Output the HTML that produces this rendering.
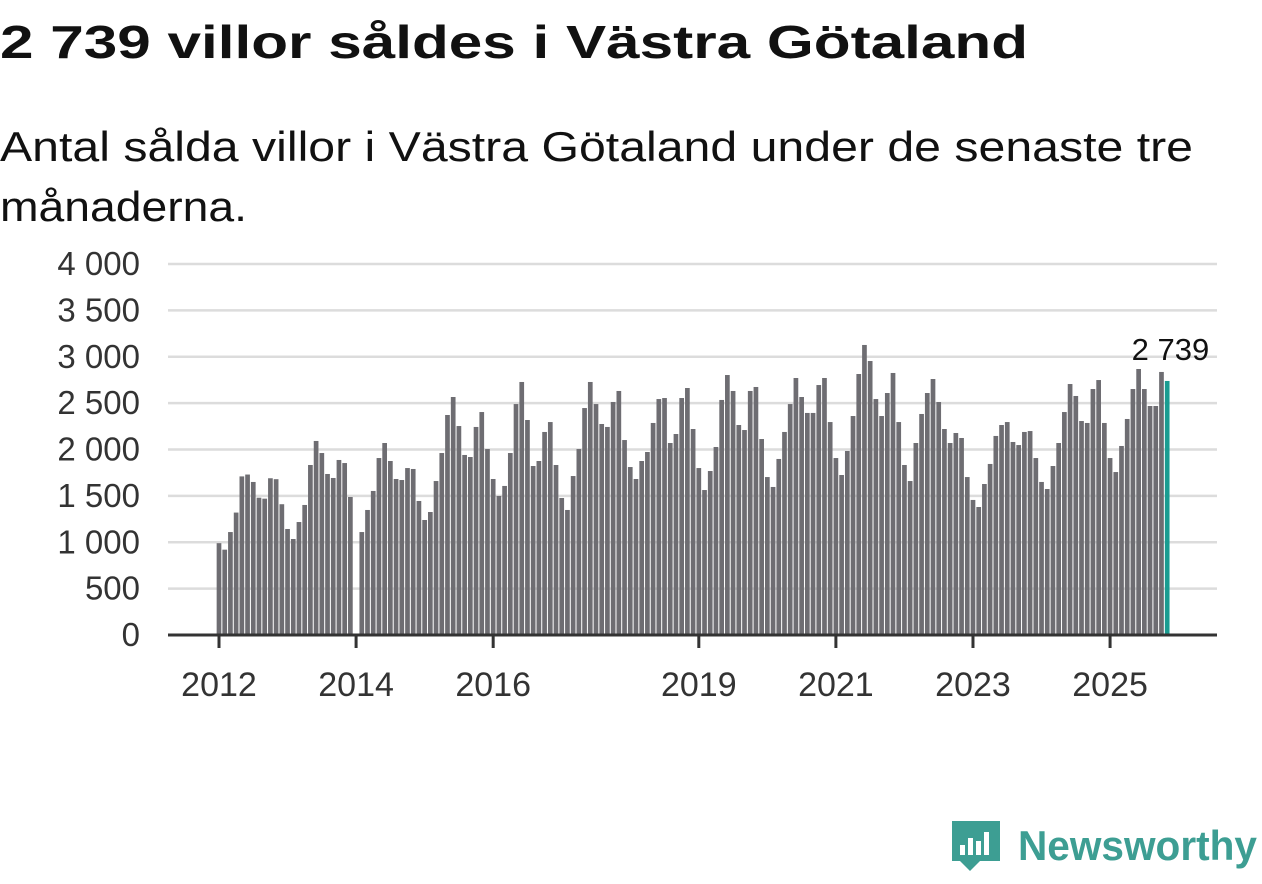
<!DOCTYPE html>
<html><head><meta charset="utf-8"><style>
body{margin:0;background:#fff;width:1262px;height:879px;overflow:hidden;font-family:"Liberation Sans",sans-serif}
</style></head><body>
<svg width="1262" height="879" xmlns="http://www.w3.org/2000/svg">
<text x="0" y="58" font-size="46" font-weight="bold" fill="#111" font-family="Liberation Sans" textLength="1028" lengthAdjust="spacingAndGlyphs">2 739 villor såldes i Västra Götaland</text>
<text x="0" y="161" font-size="42" fill="#111" textLength="1193" lengthAdjust="spacingAndGlyphs">Antal sålda villor i Västra Götaland under de senaste tre</text>
<text x="0" y="221" font-size="42" fill="#111" textLength="247" lengthAdjust="spacingAndGlyphs">månaderna.</text>
<g id="grid"></g><g id="bars"></g><g id="xaxis"></g>
<g>
<path d="M952 821 h48 v40 h-20 l-10 10 l-10 -10 h-8 z" fill="#3d9e93"/>
<rect x="960" y="845" width="5" height="10" fill="#fff"/><rect x="968" y="838" width="5" height="17" fill="#fff"/><rect x="976" y="841" width="5" height="14" fill="#fff"/><rect x="984" y="832" width="5" height="23" fill="#fff"/>
<text x="1018" y="860" font-size="42" font-weight="bold" fill="#3d9e93" textLength="239" lengthAdjust="spacingAndGlyphs">Newsworthy</text>
</g>
</svg>
<script>
const years=[2012,2014,2016,2019,2021,2023,2025];
const yTicks=[0,500,1000,1500,2000,2500,3000,3500,4000];
const yTickLabels=["0","500","1 000","1 500","2 000","2 500","3 000","3 500","4 000"];
const values=[
990,920,1110,1320,1710,1730,1650,1480,1470,1690,1680,1410,
1143,1035,1218,1402,1833,2092,1962,1736,1693,1887,1854,1488,
null,1110,1348,1553,1908,2070,1876,1682,1671,1800,1790,1445,
1240,1326,1660,1962,2372,2566,2253,1941,1919,2243,2404,2005,
1682,1499,1607,1962,2490,2728,2318,1822,1876,2189,2296,1833,
1477,1348,1714,2005,2447,2728,2490,2275,2243,2512,2631,2102,
1811,1682,1876,1973,2286,2544,2555,2070,2167,2555,2663,2221,
1800,1563,1768,2027,2534,2803,2631,2264,2210,2631,2674,2113,
1703,1596,1898,2189,2490,2771,2566,2394,2394,2695,2771,2296,
1908,1725,1984,2361,2814,3127,2954,2544,2361,2609,2825,2296,
1833,1660,2070,2383,2609,2760,2512,2221,2070,2178,2124,1703,
1456,1380,1628,1844,2146,2264,2296,2081,2048,2189,2199,1908,
1650,1574,1822,2070,2404,2706,2577,2307,2286,2652,2749,2286,
1908,1757,2038,2329,2652,2868,2652,2469,2469,2836,2739];
const startYear=2012;
const NS="http://www.w3.org/2000/svg";
const y=v=>635-v*371/4000;
const x=i=>219+i*5.712;
const grid=document.getElementById('grid');
yTicks.forEach((t,k)=>{
 if(t>0){const l=document.createElementNS(NS,'line');
 l.setAttribute('x1',168);l.setAttribute('x2',1217);l.setAttribute('y1',y(t));l.setAttribute('y2',y(t));
 l.setAttribute('stroke','#dcdcdc');l.setAttribute('stroke-width',2.5);
 
 
 grid.appendChild(l);}
 const tx=document.createElementNS(NS,'text');
 tx.setAttribute('x',140);tx.setAttribute('y',y(t)+11);tx.setAttribute('text-anchor','end');
 tx.setAttribute('font-size',33);tx.setAttribute('fill','#333');tx.textContent=yTickLabels[k];
 
 
 grid.appendChild(tx);
});
const bars=document.getElementById('bars');
values.forEach((v,i)=>{
 if(v==null)return;
 const r=document.createElementNS(NS,'rect');
 const last=i===values.length-1;
 r.setAttribute('x',x(i)-2.35);r.setAttribute('width',4.7);
 r.setAttribute('y',y(v));r.setAttribute('height',635-y(v));
 r.setAttribute('fill',last?'#1a9c91':'#6e6d72');
 
 
 bars.appendChild(r);
 if(last){const t=document.createElementNS(NS,'text');
 t.setAttribute('x',x(i)+42);t.setAttribute('y',y(v)-21);t.setAttribute('text-anchor','end');
 t.setAttribute('font-size',31);t.setAttribute('fill','#111');t.textContent='2 739';
 
 
 bars.appendChild(t);}
});
const xa=document.getElementById('xaxis');
const ax=document.createElementNS(NS,'line');
ax.setAttribute('x1',168);ax.setAttribute('x2',1217);ax.setAttribute('y1',635);ax.setAttribute('y2',635);
ax.setAttribute('stroke','#333');ax.setAttribute('stroke-width',3);


xa.appendChild(ax);
years.forEach(yr=>{
 const xi=x((yr-startYear)*12);
 const tk=document.createElementNS(NS,'line');
 tk.setAttribute('x1',xi);tk.setAttribute('x2',xi);tk.setAttribute('y1',635);tk.setAttribute('y2',648);
 tk.setAttribute('stroke','#333');tk.setAttribute('stroke-width',3);
 
 
 xa.appendChild(tk);
 const t=document.createElementNS(NS,'text');
 t.setAttribute('x',xi);t.setAttribute('y',696);t.setAttribute('text-anchor','middle');
 t.setAttribute('font-size',34);t.setAttribute('fill','#333');t.textContent=yr;
 
 
 xa.appendChild(t);
});
</script>
</body></html>
